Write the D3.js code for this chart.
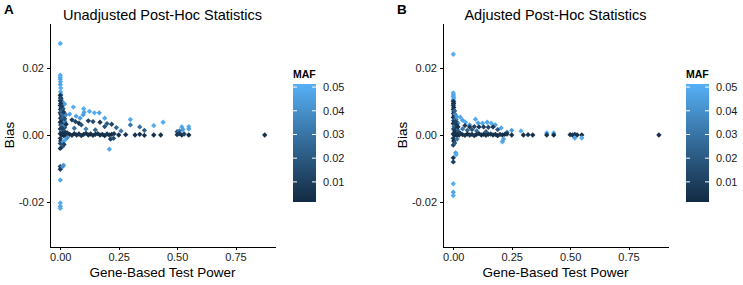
<!DOCTYPE html>
<html>
<head>
<meta charset="utf-8">
<script src="https://cdn.jsdelivr.net/npm/d3@7"></script>
<style>
    body { margin: 0; background: #fff; }
    svg { font-family: "Liberation Sans", Arial, sans-serif; }
    .axis path, .axis line { stroke: #000; stroke-width: 1px; shape-rendering: crispEdges; }
    .axis text { fill: #1a1a1a; font-size: 11px; }
</style>
</head>
<body>
<div id="chart"></div>
<script>
// [power, bias, MAF] per gene
var unadjustedPoints = [
    [0.000, 0.0272, 0.050], [0.000, 0.0178, 0.048], [0.000, 0.0172, 0.050], [0.000, 0.0166, 0.047],
    [0.001, 0.0158, 0.049], [0.000, 0.0150, 0.046], [0.002, 0.0140, 0.050], [0.001, 0.0128, 0.048],
    [0.003, 0.0120, 0.044], [0.002, 0.0112, 0.045], [0.004, 0.0104, 0.050], [0.006, 0.0098, 0.047],
    [0.012, 0.0096, 0.043], [0.018, 0.0092, 0.046],
    [0.000, 0.0118, 0.004], [0.001, 0.0110, 0.006], [0.000, 0.0102, 0.003], [0.002, 0.0094, 0.008],
    [0.000, 0.0088, 0.005], [0.004, 0.0082, 0.012], [0.001, 0.0076, 0.006], [0.006, 0.0072, 0.015],
    [0.000, 0.0066, 0.004], [0.003, 0.0060, 0.010], [0.008, 0.0056, 0.018], [0.001, 0.0050, 0.007],
    [0.005, 0.0046, 0.022], [0.010, 0.0042, 0.012], [0.000, 0.0038, 0.003], [0.014, 0.0035, 0.009],
    [0.002, 0.0030, 0.016], [0.007, 0.0026, 0.028], [0.018, 0.0022, 0.014], [0.000, 0.0018, 0.006],
    [0.011, 0.0015, 0.020], [0.004, 0.0010, 0.032], [0.022, 0.0008, 0.010], [0.016, 0.0028, 0.035],
    [0.009, 0.0064, 0.030], [0.013, 0.0052, 0.026], [0.020, 0.0040, 0.040], [0.024, 0.0060, 0.038],
    [0.004, 0.0070, 0.024], [0.012, 0.0078, 0.020], [0.006, 0.0086, 0.010], [0.015, 0.0068, 0.008],
    [0.019, 0.0048, 0.016], [0.025, 0.0032, 0.006], [0.008, 0.0020, 0.012], [0.003, 0.0108, 0.014],
    [0.056, 0.0083, 0.050], [0.040, 0.0062, 0.046], [0.068, 0.0056, 0.047], [0.100, 0.0078, 0.050],
    [0.102, 0.0068, 0.048], [0.098, 0.0060, 0.045], [0.125, 0.0070, 0.049], [0.146, 0.0066, 0.050],
    [0.167, 0.0066, 0.047], [0.085, 0.0050, 0.044], [0.190, 0.0050, 0.048], [0.300, 0.0046, 0.050],
    [0.400, 0.0028, 0.049], [0.440, 0.0038, 0.050], [0.520, 0.0024, 0.048], [0.550, 0.0025, 0.050],
    [0.550, 0.0018, 0.046], [0.525, 0.0016, 0.044],
    [0.050, 0.0045, 0.008], [0.065, 0.0040, 0.012], [0.080, 0.0035, 0.006], [0.090, 0.0030, 0.018],
    [0.120, 0.0042, 0.010], [0.140, 0.0040, 0.015], [0.170, 0.0038, 0.008], [0.200, 0.0034, 0.020],
    [0.220, 0.0032, 0.012], [0.240, 0.0022, 0.025], [0.300, 0.0030, 0.030], [0.340, 0.0024, 0.028],
    [0.360, 0.0014, 0.022], [0.060, 0.0020, 0.030], [0.110, 0.0018, 0.035], [0.150, 0.0015, 0.025],
    [0.190, 0.0025, 0.018], [0.260, 0.0012, 0.032], [0.500, 0.0010, 0.020], [0.510, 0.0012, 0.030],
    [0.000, 0.0004, 0.004], [0.005, 0.0001, 0.003], [0.010, 0.0005, 0.006], [0.015, -0.0002, 0.002],
    [0.020, 0.0003, 0.005], [0.025, 0.0000, 0.004], [0.030, 0.0006, 0.008], [0.040, 0.0002, 0.003],
    [0.050, -0.0001, 0.006], [0.060, 0.0004, 0.002], [0.070, 0.0000, 0.005], [0.080, 0.0003, 0.004],
    [0.090, -0.0002, 0.007], [0.100, 0.0002, 0.003], [0.110, 0.0005, 0.006], [0.120, 0.0000, 0.004],
    [0.130, 0.0003, 0.002], [0.140, -0.0001, 0.005], [0.150, 0.0002, 0.003], [0.160, 0.0004, 0.006],
    [0.170, 0.0000, 0.004], [0.180, 0.0002, 0.005], [0.190, -0.0002, 0.003], [0.200, 0.0003, 0.007],
    [0.210, 0.0000, 0.004], [0.220, 0.0002, 0.002], [0.230, 0.0004, 0.006], [0.250, 0.0000, 0.004],
    [0.280, 0.0001, 0.003], [0.320, 0.0000, 0.005], [0.340, 0.0002, 0.004], [0.360, -0.0001, 0.006],
    [0.400, 0.0000, 0.003], [0.430, 0.0000, 0.004], [0.500, 0.0001, 0.005], [0.510, 0.0004, 0.008],
    [0.520, 0.0000, 0.004], [0.530, 0.0003, 0.012], [0.550, 0.0000, 0.003], [0.875, 0.0000, 0.004],
    [0.000, -0.0010, 0.010], [0.002, -0.0018, 0.006], [0.000, -0.0025, 0.015], [0.012, -0.0020, 0.045],
    [0.016, -0.0028, 0.010], [0.010, -0.0034, 0.020], [0.000, -0.0040, 0.005], [0.000, -0.0094, 0.012],
    [0.000, -0.0102, 0.008], [0.014, -0.0090, 0.046], [0.010, -0.0094, 0.040], [0.000, -0.0134, 0.048],
    [0.000, -0.0202, 0.050], [0.000, -0.0212, 0.047], [0.000, -0.0218, 0.049], [0.210, -0.0042, 0.048],
    [0.215, -0.0012, 0.010], [0.228, -0.0010, 0.015], [0.020, -0.0015, 0.048], [0.030, -0.0008, 0.040]
];

var adjustedPoints = [
    [0.000, 0.0240, 0.050], [0.000, 0.0125, 0.048], [0.001, 0.0120, 0.050], [0.000, 0.0115, 0.046],
    [0.002, 0.0110, 0.049], [0.000, 0.0104, 0.047], [0.003, 0.0098, 0.045], [0.001, 0.0092, 0.050],
    [0.000, 0.0100, 0.006], [0.001, 0.0094, 0.004], [0.000, 0.0088, 0.008], [0.002, 0.0082, 0.005],
    [0.000, 0.0076, 0.003], [0.003, 0.0070, 0.010], [0.001, 0.0064, 0.006], [0.004, 0.0058, 0.014],
    [0.000, 0.0052, 0.004], [0.006, 0.0048, 0.018], [0.002, 0.0042, 0.008], [0.008, 0.0038, 0.022],
    [0.000, 0.0034, 0.005], [0.010, 0.0030, 0.012], [0.004, 0.0026, 0.028], [0.014, 0.0022, 0.010],
    [0.001, 0.0018, 0.016], [0.018, 0.0015, 0.030], [0.006, 0.0012, 0.007], [0.022, 0.0010, 0.020],
    [0.012, 0.0046, 0.034], [0.008, 0.0062, 0.038], [0.016, 0.0054, 0.044], [0.020, 0.0036, 0.040],
    [0.005, 0.0072, 0.024], [0.010, 0.0040, 0.012], [0.015, 0.0030, 0.008], [0.020, 0.0024, 0.006],
    [0.030, 0.0053, 0.048], [0.052, 0.0038, 0.050], [0.040, 0.0044, 0.046], [0.095, 0.0047, 0.049],
    [0.106, 0.0036, 0.047], [0.125, 0.0035, 0.050], [0.145, 0.0038, 0.048], [0.163, 0.0035, 0.050],
    [0.180, 0.0030, 0.046], [0.205, 0.0021, 0.049], [0.290, 0.0012, 0.050], [0.070, 0.0030, 0.044],
    [0.250, 0.0014, 0.045], [0.400, 0.0006, 0.048], [0.430, 0.0006, 0.050],
    [0.050, 0.0028, 0.008], [0.070, 0.0024, 0.006], [0.090, 0.0025, 0.012], [0.110, 0.0024, 0.005],
    [0.130, 0.0024, 0.009], [0.150, 0.0023, 0.014], [0.170, 0.0024, 0.007], [0.190, 0.0016, 0.020],
    [0.060, 0.0014, 0.025], [0.100, 0.0012, 0.030], [0.140, 0.0010, 0.022], [0.230, 0.0008, 0.028],
    [0.040, 0.0018, 0.032], [0.080, 0.0016, 0.018],
    [0.000, 0.0003, 0.004], [0.005, 0.0000, 0.003], [0.010, 0.0004, 0.006], [0.015, -0.0002, 0.002],
    [0.020, 0.0002, 0.005], [0.025, 0.0000, 0.004], [0.030, 0.0005, 0.008], [0.040, 0.0001, 0.003],
    [0.050, -0.0001, 0.006], [0.060, 0.0003, 0.002], [0.070, 0.0000, 0.005], [0.080, 0.0002, 0.004],
    [0.090, -0.0002, 0.007], [0.100, 0.0002, 0.003], [0.110, 0.0004, 0.006], [0.120, 0.0000, 0.004],
    [0.130, 0.0002, 0.002], [0.140, -0.0001, 0.005], [0.150, 0.0002, 0.003], [0.160, 0.0003, 0.006],
    [0.170, 0.0000, 0.004], [0.180, 0.0002, 0.005], [0.190, -0.0002, 0.003], [0.200, 0.0002, 0.007],
    [0.210, 0.0000, 0.004], [0.220, 0.0002, 0.002], [0.230, 0.0003, 0.006], [0.250, 0.0000, 0.004],
    [0.300, 0.0000, 0.003], [0.320, 0.0001, 0.005], [0.340, 0.0000, 0.004], [0.400, 0.0000, 0.006],
    [0.430, 0.0000, 0.003], [0.500, 0.0001, 0.004], [0.510, 0.0000, 0.005], [0.520, 0.0002, 0.008],
    [0.530, 0.0000, 0.004], [0.550, 0.0000, 0.003], [0.880, 0.0000, 0.004],
    [0.000, -0.0010, 0.008], [0.002, -0.0018, 0.005], [0.000, -0.0030, 0.012], [0.000, -0.0068, 0.006],
    [0.000, -0.0080, 0.010], [0.010, -0.0053, 0.046], [0.012, -0.0058, 0.048], [0.000, -0.0145, 0.050],
    [0.000, -0.0170, 0.047], [0.000, -0.0180, 0.049], [0.210, -0.0020, 0.048], [0.215, -0.0012, 0.046],
    [0.520, -0.0009, 0.048], [0.550, -0.0009, 0.050], [0.016, -0.0012, 0.030], [0.006, -0.0024, 0.020]
];

var panelLetters = ["A", "B"];
var panelTitles = ["Unadjusted Post-Hoc Statistics", "Adjusted Post-Hoc Statistics"];
var xTicks = [0, 0.25, 0.5, 0.75];
var yTicks = [-0.02, 0, 0.02];
var mafTicks = [0.01, 0.02, 0.03, 0.04, 0.05];

var width = 743, height = 285;

var svg = d3.select("#chart").append("svg")
    .attr("width", width)
    .attr("height", height);

var colorMap = d3.scaleLinear()
    .domain([0.0015, 0.0513])
    .range(["#132B43", "#56B1F7"])
    .interpolate(d3.interpolateLab);

var diamond = d3.symbol().type(d3.symbolDiamond2).size(18);

// plain hyphen for negatives, like the original
var tickFmt = function (d) {
    return d3.format(".2f")(d).replace("\u2212", "-");
};

function drawPanel(offsetX, letter, title, points) {
    var left = offsetX + 50, right = offsetX + 275,
        top = 23, bottom = 247;

    var x = d3.scaleLinear().domain([-0.044, 0.919]).range([left, right]);
    var y = d3.scaleLinear().domain([-0.0333, 0.0333]).range([bottom, top]);

    var g = svg.append("g");

    g.append("g")
        .attr("class", "axis")
        .attr("transform", "translate(0," + bottom + ")")
        .call(d3.axisBottom(x).tickValues(xTicks).tickSize(3).tickSizeOuter(0).tickPadding(3)
            .tickFormat(tickFmt));

    g.append("g")
        .attr("class", "axis")
        .attr("transform", "translate(" + left + ",0)")
        .call(d3.axisLeft(y).tickValues(yTicks).tickSize(3).tickSizeOuter(0).tickPadding(3)
            .tickFormat(tickFmt));

    g.selectAll(".dot")
        .data(points)
        .enter().append("path")
        .attr("class", "dot")
        .attr("d", diamond)
        .attr("transform", function (d) {
            return "translate(" + x(d[0]) + "," + y(d[1]) + ")";
        })
        .style("fill", function (d) { return colorMap(d[2]); });

    g.append("text")
        .attr("x", (left + right) / 2)
        .attr("y", 20)
        .attr("text-anchor", "middle")
        .style("font-size", "14.5px")
        .text(title);

    g.append("text")
        .attr("x", offsetX + 4)
        .attr("y", 14)
        .style("font-size", "13.5px")
        .style("font-weight", "bold")
        .text(letter);

    g.append("text")
        .attr("x", (left + right) / 2)
        .attr("y", 277)
        .attr("text-anchor", "middle")
        .style("font-size", "13.5px")
        .text("Gene-Based Test Power");

    g.append("text")
        .attr("transform", "translate(" + (offsetX + 14) + "," + y(0) + ") rotate(-90)")
        .attr("text-anchor", "middle")
        .style("font-size", "13.5px")
        .text("Bias");

    // colour bar legend
    var barX = offsetX + 293, barW = 23, barTop = 84, barBottom = 202;
    var legendScale = d3.scaleLinear().domain(colorMap.domain()).range([barBottom, barTop]);

    var gradId = "grad" + letter;
    var grad = svg.append("defs").append("linearGradient")
        .attr("id", gradId)
        .attr("x1", 0).attr("y1", 1).attr("x2", 0).attr("y2", 0);
    d3.range(0, 1.01, 0.1).forEach(function (t) {
        grad.append("stop")
            .attr("offset", t)
            .attr("stop-color", colorMap(colorMap.domain()[0] + t * (colorMap.domain()[1] - colorMap.domain()[0])));
    });

    g.append("text")
        .attr("x", barX)
        .attr("y", 78)
        .style("font-size", "10.5px")
        .style("font-weight", "bold")
        .text("MAF");

    g.append("rect")
        .attr("x", barX)
        .attr("y", barTop)
        .attr("width", barW)
        .attr("height", barBottom - barTop)
        .style("fill", "url(#" + gradId + ")");

    var ticks = g.selectAll(".maf-tick")
        .data(mafTicks)
        .enter().append("g")
        .attr("class", "maf-tick")
        .attr("transform", function (d) { return "translate(0," + legendScale(d) + ")"; });

    ticks.append("line")
        .attr("x1", barX).attr("x2", barX + 4)
        .style("stroke", "#fff").style("stroke-width", 1);
    ticks.append("line")
        .attr("x1", barX + barW - 4).attr("x2", barX + barW)
        .style("stroke", "#fff").style("stroke-width", 1);
    ticks.append("text")
        .attr("x", barX + barW + 7)
        .attr("dy", ".35em")
        .style("font-size", "11px")
        .style("fill", "#1a1a1a")
        .text(function (d) { return d.toFixed(2); });
}

drawPanel(0, panelLetters[0], panelTitles[0], unadjustedPoints);
drawPanel(393, panelLetters[1], panelTitles[1], adjustedPoints);
</script>
</body>
</html>
